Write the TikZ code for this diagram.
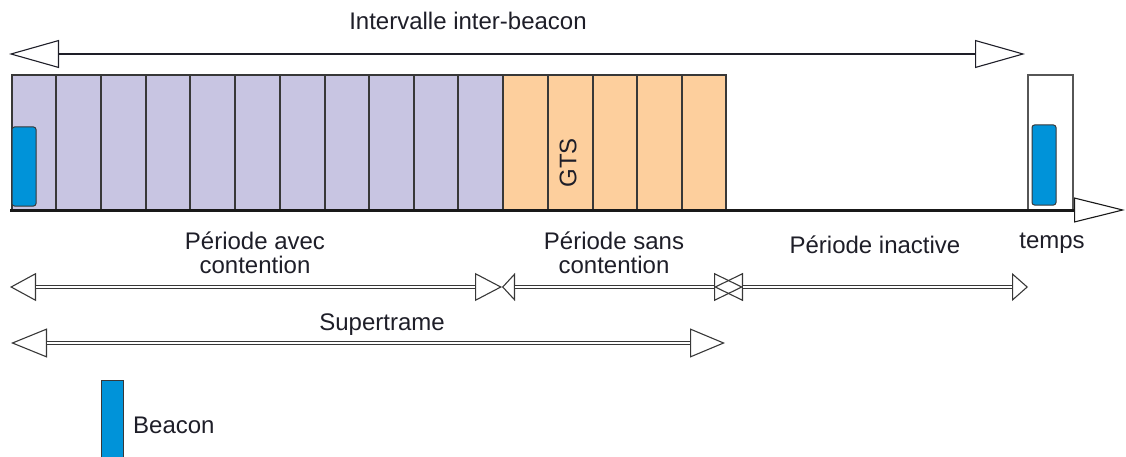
\documentclass[tikz,border=0pt]{standalone}
\usepackage{fontspec}
\setmainfont{Liberation Sans}
\usetikzlibrary{arrows.meta}
\definecolor{capcol}{HTML}{C8C5E2}
\definecolor{cfpcol}{HTML}{FDCF9D}
\definecolor{beaconcol}{HTML}{0093D9}
\definecolor{inkcol}{HTML}{1E1E28}
\definecolor{edgecol}{HTML}{383838}
\tikzset{
  lbl/.style={inner sep=0pt, text=inkcol, font=\fontsize{24}{24}\selectfont, anchor=base},
  cell/.style={draw=edgecol, line width=1.5pt},
  beaconbox/.style={fill=beaconcol, draw=edgecol, line width=1pt, rounded corners=2.5pt},
  heads/.style={draw=edgecol, line width=0.9pt},
  dblline/.style={draw=edgecol, double=white, double distance=2.2pt, line width=1pt},
}
% open triangular tip of given length and width
\newcommand{\otip}[2]{Triangle[open,length=#1pt,width=#2pt,line width=1.1pt]}
\begin{document}
\begin{tikzpicture}[x=1pt,y=-1pt]
\useasboundingbox (0,0) rectangle (1126,457);

% ---- inter-beacon interval arrow
\coordinate (ibL) at (9,54);
\coordinate (ibR) at (1025,54);
\draw[draw=inkcol, line width=2.6pt, {\otip{50}{28}}-{\otip{50}{28}}] (ibL) -- (ibR);
\node[lbl] (ibtxt) at (468,30) {Intervalle inter-beacon};

% ---- superframe slots: contention access part, then contention free part
\fill[capcol] (12,75) rectangle (503,210);
\fill[cfpcol] (503,75) rectangle (726,210);
\draw[cell] (12,210) -- (12,75) -- (726,75) -- (726,210);
\foreach \x in {56,101,146,190,235,280,325,369,414,458,503,548,593,637,682}
  \draw[cell] (\x,75) -- (\x,210);
\node[inner sep=0pt, text=inkcol, font=\fontsize{24}{24}\selectfont, rotate=90] (gts) at (568,163) {GTS};

% ---- beacons on the time line
\draw[beaconbox] (12,127) rectangle (36,206);
\draw[draw=edgecol!85, line width=1.1pt] (1028,75) rectangle (1073,210);
\draw[beaconbox] (1032,125) rectangle (1056,205);

% ---- time axis
\coordinate (t0) at (10,210);
\coordinate (t1) at (1125,210);
\draw[draw=black!90, line width=3pt, -{\otip{51}{25}}] (t0) -- (t1);
\node[lbl] (temps) at (1052,248) {temps};

% ---- period labels
\node[lbl, align=center] (cap) at (255,273) {Période avec\\contention};
\node[lbl, align=center] (cfp) at (614,273) {Période sans\\contention};
\node[lbl] (inact) at (875,253) {Période inactive};

% ---- period arrows (double lines, open heads)
\coordinate (a1) at (10,287);
\coordinate (a2) at (502,287);
\coordinate (b1) at (502,287);
\coordinate (b2) at (743,287);
\coordinate (c1) at (714,287);
\coordinate (c2) at (1028,287);
\draw[heads, {\otip{26}{28}}-{\otip{27}{28}}] (a1) -- (a2);
\draw[dblline, shorten <=26pt, shorten >=27pt] (a1) -- (a2);
\draw[heads, {\otip{13}{28}}-{\otip{29}{28}}] (b1) -- (b2);
\draw[dblline, shorten <=13pt, shorten >=29pt] (b1) -- (b2);
\draw[heads, {\otip{29}{28}}-{\otip{16}{28}}] (c1) -- (c2);
\draw[dblline, shorten <=29pt, shorten >=16pt] (c1) -- (c2);

% ---- superframe arrow
\coordinate (s1) at (11,343);
\coordinate (s2) at (725,343);
\draw[heads, {\otip{36}{29}}-{\otip{35}{29}}] (s1) -- (s2);
\draw[dblline, shorten <=36pt, shorten >=35pt] (s1) -- (s2);
\node[lbl] (sup) at (382,330) {Supertrame};

% ---- legend
\draw[fill=beaconcol, draw=edgecol, line width=1pt] (101,380) rectangle (123,462);
\node[lbl, anchor=base west] (leg) at (133,433) {Beacon};
\end{tikzpicture}
\end{document}
